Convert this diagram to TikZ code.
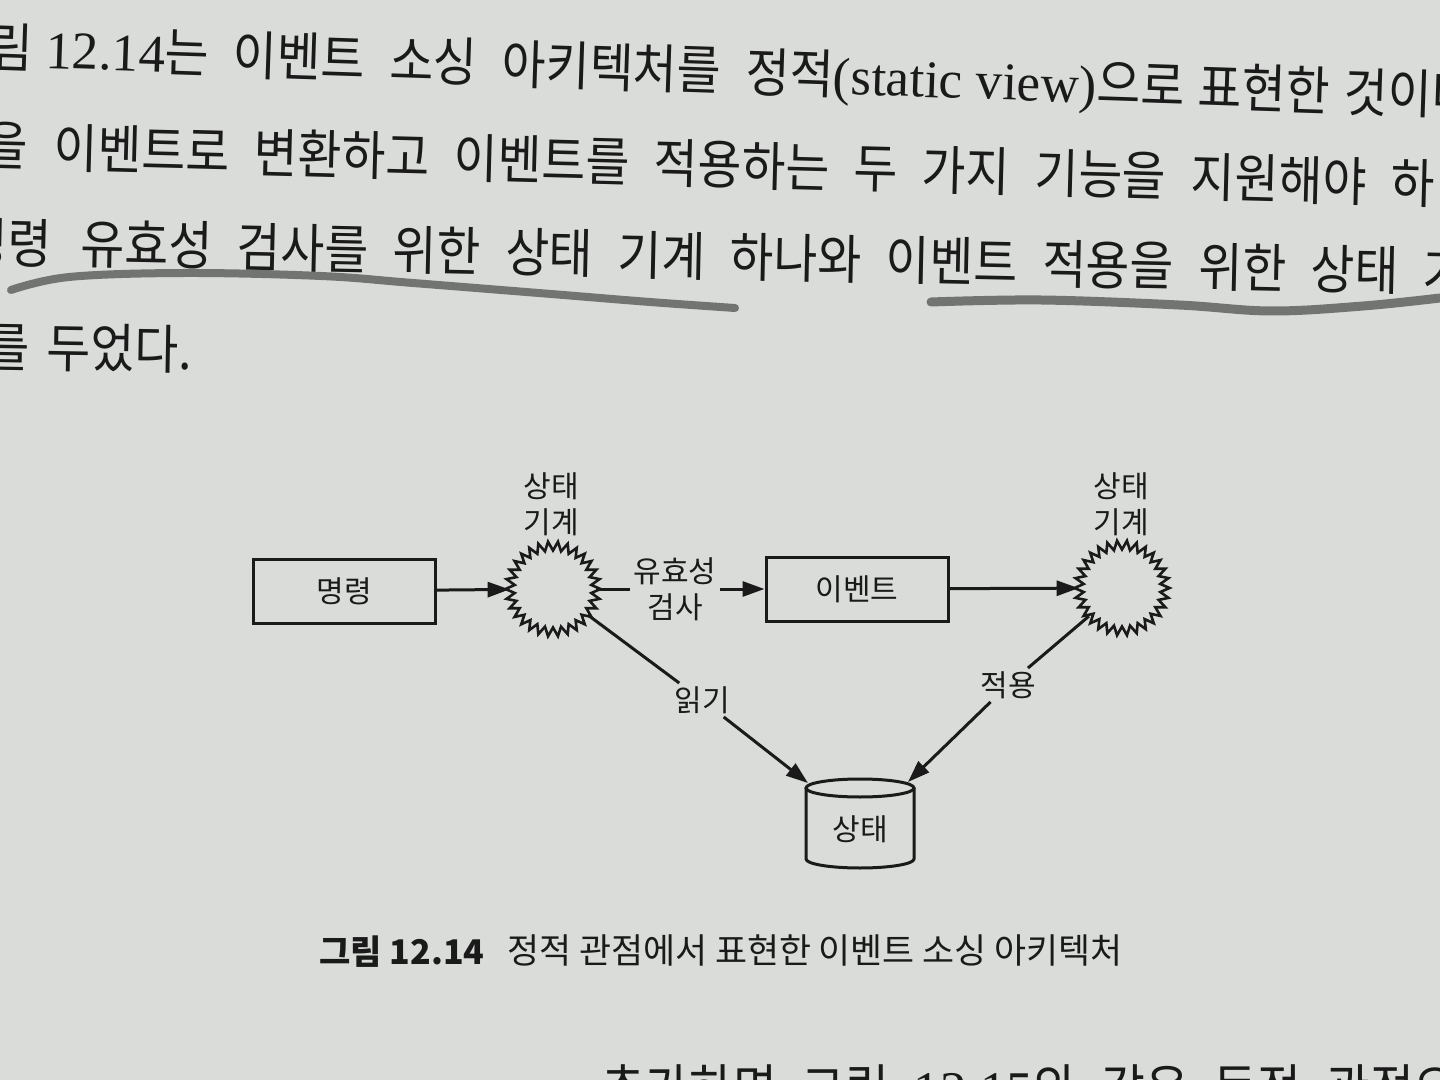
\documentclass[tikz,border=0pt]{standalone}
\usepackage{fontspec}
\usetikzlibrary{arrows.meta}
\setmainfont{Noto Sans CJK KR}
\newfontfamily\bodyfont[FakeStretch=0.9,WordSpace=2.3]{Noto Sans CJK KR}
\newfontfamily\latinserif{Liberation Serif}
\definecolor{paper}{HTML}{D9DCD8}
\definecolor{ink}{HTML}{1A1A1A}
\definecolor{pencilgray}{HTML}{595B59}
\begin{document}
\begin{tikzpicture}[x=0.5pt,y=-0.5pt,
  bodyline/.style={anchor=base west, inner sep=0pt, text=ink, font=\bodyfont\fontsize{26.5}{30}\selectfont},
  capline/.style={anchor=base west, inner sep=0pt, text=ink, font=\fontsize{17.4}{20}\selectfont},
  dlabel/.style={text=ink, align=center, inner sep=1.5pt, font=\fontsize{15}{18}\selectfont},
  boxnode/.style={draw=ink, line width=1.5pt, minimum width=91pt, minimum height=32pt, inner sep=0pt, text=ink, font=\fontsize{15}{18}\selectfont},
  starhub/.style={circle, minimum size=43pt, inner sep=0pt},
  ln/.style={draw=ink, line width=1.5pt},
  arr/.style={draw=ink, line width=1.5pt, -{Triangle[length=11pt,width=7.5pt]}},
  zig/.style={draw=ink, line width=1.3pt, line join=miter},
  pencil/.style={draw=pencilgray, line width=4pt, line cap=round, opacity=0.8}
]
\useasboundingbox (0,0) rectangle (1440,1080);
\fill[paper] (0,0) rectangle (1440,1080);
\clip (0,0) rectangle (1440,1080);

% ---- body text ----
\node[bodyline, anchor=base east, rotate=-1.9] (l1a) at (33,68) {그림};
\node[bodyline, rotate=-1.9] (l1b) at (45,68) {{\latinserif 12.14}는 이벤트 소싱 아키텍처를 정적{\latinserif (static view)}으로\hspace{7pt}표현한\hspace{7pt}것이다.};
\node[bodyline, anchor=base east, rotate=-1.5] (l2a) at (28,166) {을};
\node[bodyline, rotate=-1.5] (l2b) at (53,167) {이벤트로 변환하고 이벤트를 적용하는 두 가지 기능을 지원해야 하};
\node[bodyline, anchor=base east, rotate=-1.2] (l3a) at (52,263) {명령};
\node[bodyline, rotate=-1.2] (l3b) at (80,263) {유효성 검사를 위한 상태 기계 하나와 이벤트 적용을 위한 상태 기};
\node[bodyline, anchor=base east, rotate=-1] (l4a) at (30,367) {를};
\node[bodyline, rotate=-1] (l4b) at (46,367) {두었다.};
\node[bodyline] (l5) at (601,1108) {추가하면 그림 {\latinserif 12.15}와 같은 동적 관점으로};

% ---- pencil underlines ----
\draw[pencil] plot[smooth, tension=0.6] coordinates {(11,290) (69,277) (184,273) (321,276) (413,283) (551,294) (650,302) (735,308)};
\draw[pencil, line width=4.5pt] plot[smooth, tension=0.6] coordinates {(931,302) (1041,300) (1179,305) (1271,311) (1363,306) (1440,298)};

% ---- diagram ----
\node[boxnode] (cmd) at (344,591) {명령};
\node[starhub] (s1) at (553,589) {};
\node[starhub] (s2) at (1122,588) {};
\draw[zig, shift={(s1.center)}] plot[variable=\k, samples=60, domain=0:59] ({\k*6}:{43+4.5*cos(\k*180)}) -- cycle;
\draw[zig, shift={(s2.center)}] plot[variable=\k, samples=60, domain=0:59] ({\k*6}:{43+4.5*cos(\k*180)}) -- cycle;
\node[dlabel] (sm1) at (551,504) {상태\\기계};
\node[dlabel] (sm2) at (1121,504) {상태\\기계};
\node[dlabel] (val) at (675,589) {유효성\\검사};
\node[boxnode] (evt) at (857,589) {이벤트};
\node[dlabel] (read) at (702,700) {읽기};
\node[dlabel] (apply) at (1008,685) {적용};

% state store (cylinder)
\draw[ln] (860,788) ellipse[x radius=27pt, y radius=4.5pt];
\draw[ln] (806,788) -- (806,859) arc[start angle=180, end angle=360, x radius=27pt, y radius=4.5pt] -- (914,788);
\node[text=ink, inner sep=0pt, font=\fontsize{15}{18}\selectfont] (st) at (860,829) {상태};
\coordinate (stl) at (808,783);
\coordinate (str) at (908,782);

% connectors
\draw[arr] (cmd) -- (s1);
\draw[ln] (s1) -- (val);
\draw[arr] (val) -- (evt);
\draw[arr] (evt) -- (s2);
\draw[ln] (s1) -- (read);
\draw[arr] (read) -- (stl);
\draw[ln] (s2) -- (apply);
\draw[arr] (apply) -- (str);

% ---- caption ----
\node[capline, font=\bfseries\fontsize{17}{20}\selectfont] (capa) at (319,964) {그림 12.14};
\node[capline] (capb) at (507,963) {정적 관점에서 표현한 이벤트 소싱 아키텍처};
\end{tikzpicture}
\end{document}
